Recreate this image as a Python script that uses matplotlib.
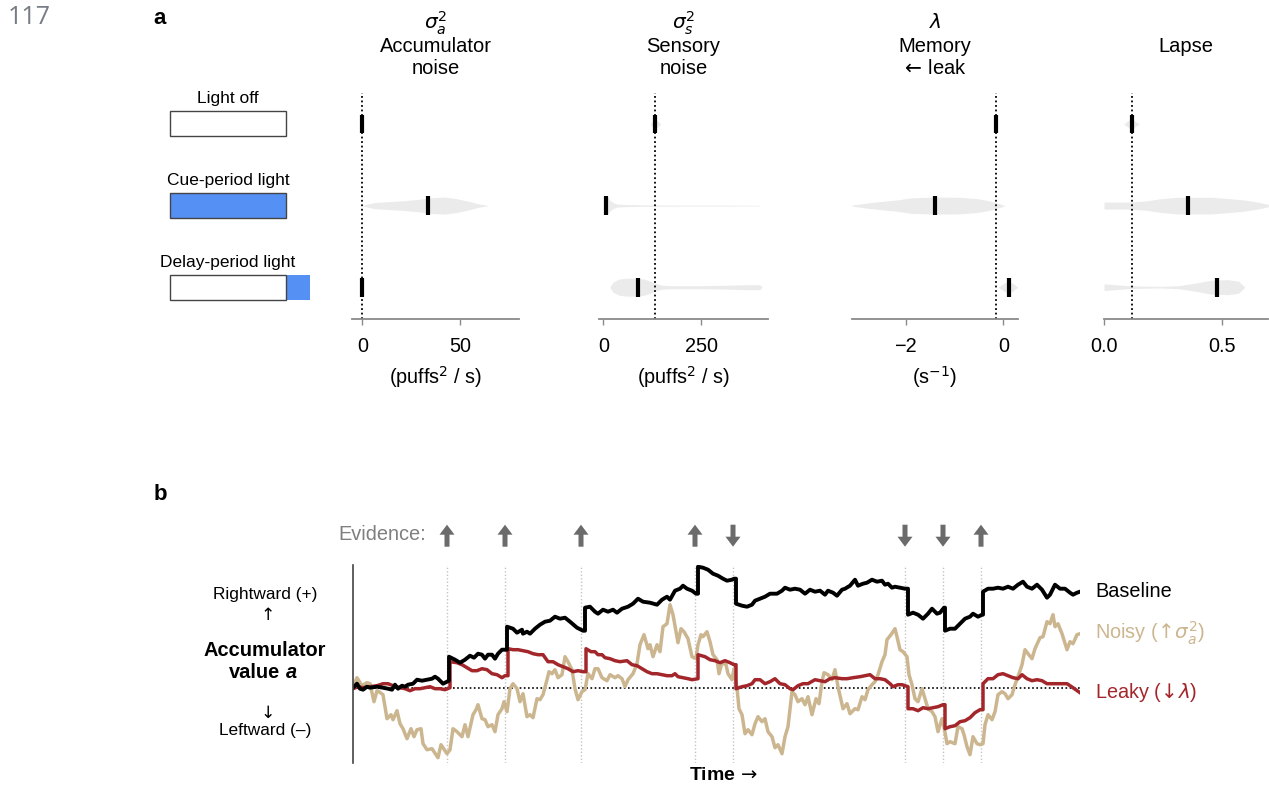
import numpy as np
import matplotlib
matplotlib.use("Agg")
import matplotlib.pyplot as plt
from matplotlib.patches import Rectangle

plt.rcParams['font.family'] = ['Liberation Sans', 'DejaVu Sans']
plt.rcParams['mathtext.fontset'] = 'dejavusans'

# ---------------- data: panel a ----------------
conditions = ["Light off", "Cue-period light", "Delay-period light"]
param_titles = [["$\\sigma_a^2$", "Accumulator", "noise"],
                ["$\\sigma_s^2$", "Sensory", "noise"],
                ["$\\lambda$", "Memory", "$\\!\\leftarrow\\!$ leak"],
                ["", "Lapse", ""]]
param_units = ["(puffs$^2$ / s)", "(puffs$^2$ / s)", "(s$^{-1}$)", ""]
param_ticks = [[0, 50], [0, 250], [-2, 0], [0.0, 0.5]]
param_ticklabels = [["0", "50"], ["0", "250"], ["\u22122", "0"], ["0.0", "0.5"]]
param_xlim = [(-5.3, 80.2), (-11, 421), (-3.10, 0.30), (0.0, 0.695)]
baseline_values = [0.0, 132.0, -0.15, 0.117]

medians_sigma_a = [0.0, 33.8, 0.0]
medians_sigma_s = [132.0, 7.0, 88.0]
medians_lambda = [-0.15, -1.40, 0.11]
medians_lapse = [0.117, 0.357, 0.48]

# violin outlines: (parameter values, relative density)
violin_sigma_a = [
    None,
    ([0.5, 6, 14, 22, 30, 36, 42, 48, 54, 60, 64],
     [0.5, 3, 4, 5, 6.5, 8, 8.5, 7, 4.5, 1.5, 0.3]),
    None]
violin_sigma_s = [
    ([120, 126, 132, 139, 146], [0.3, 3, 5, 3, 0.3]),
    ([6, 8, 12, 18, 25, 35, 60, 100, 200, 300, 400],
     [2, 7, 8, 5, 3, 1.5, 1, 0.7, 0.5, 0.5, 0.3]),
    ([17, 25, 40, 60, 85, 105, 120, 135, 150, 175, 250, 320, 370, 400, 405],
     [0.5, 5, 8, 9, 9, 8, 6, 3.5, 2, 1.5, 1.5, 2, 2.5, 2.5, 0.5])]
violin_lambda = [
    None,
    ([-3.1, -2.8, -2.56, -2.15, -1.88, -1.4, -0.9, -0.51, -0.24, -0.05, 0.02],
     [0.5, 2.5, 3.8, 5.8, 7.8, 8.5, 8.3, 6.8, 4.2, 1.5, 0.2]),
    ([-0.10, 0.0, 0.11, 0.2, 0.29], [0.3, 3.5, 6.5, 3.5, 0.3])]
violin_lapse = [
    ([0.085, 0.10, 0.117, 0.13, 0.148], [0.3, 3, 6, 3, 0.3]),
    ([0.0, 0.10, 0.174, 0.244, 0.315, 0.456, 0.53, 0.597, 0.65, 0.70],
     [3.5, 3.5, 4.5, 7, 8.3, 8.3, 7, 5.5, 3.5, 1]),
    ([0.0, 0.05, 0.103, 0.17, 0.244, 0.315, 0.386, 0.456, 0.527, 0.57, 0.595],
     [3.3, 2.5, 1.5, 1, 0.8, 1.5, 4, 7, 7.5, 6, 0.5])]

# ---------------- data: panel b ----------------
evidence_times = [94, 152, 228, 342, 380, 552, 590, 628]
evidence_dirs = [1, 1, 1, 1, -1, -1, -1, 1]

baseline_t = [0, 4, 7, 10, 14, 17, 24, 30, 35, 39, 42, 45, 49, 52, 55, 60, 64, 69, 74, 79, 82, 85, 90, 96, 96,
              102, 107, 112, 117, 121, 125, 129, 132, 135, 139, 142, 145, 149, 154, 154, 160, 164, 169, 170,
              174, 177, 182, 187, 192, 197, 202, 207, 212, 217, 224, 230, 232, 232, 237, 242, 245, 250, 255,
              260, 264, 269, 275, 280, 285, 290, 297, 304, 309, 314, 317, 322, 327, 330, 334, 339, 343, 345,
              345, 350, 355, 360, 365, 370, 374, 379, 381, 383, 383, 389, 394, 399, 402, 407, 412, 417, 424,
              429, 432, 437, 442, 447, 452, 457, 462, 467, 472, 475, 480, 484, 489, 492, 497, 502, 505, 510,
              514, 519, 524, 529, 532, 535, 539, 542, 547, 552, 555, 555, 560, 565, 570, 575, 579, 584, 587,
              591, 592, 592, 597, 602, 607, 612, 617, 620, 625, 629, 630, 630, 635, 640, 645, 650, 655, 660,
              665, 670, 674, 679, 684, 689, 694, 697, 702, 707, 712, 717, 720, 724, 727]
baseline_v = [0, 4, -1, -2, 1, 0, 1, 0, -1, -2, 3, -1, 2, 1, 3, 4, 8, 7, 8, 9, 11, 9, 4, 7, 31,
              28, 25, 28, 32, 30, 34, 33, 29, 33, 33, 29, 34, 38, 38, 61, 59, 55, 58, 54,
              56, 54, 59, 63, 66, 67, 71, 69, 70, 66, 60, 57, 57, 80, 81, 76, 74, 78, 76,
              78, 75, 79, 81, 84, 89, 86, 85, 83, 88, 91, 88, 97, 99, 102, 99, 97, 94, 94,
              121, 120, 118, 114, 112, 109, 107, 108, 109, 109, 84, 82, 81, 83, 87, 89, 91, 94, 94,
              97, 100, 98, 99, 98, 94, 98, 96, 97, 93, 97, 95, 92, 98, 99, 102, 108, 102, 104,
              105, 108, 106, 107, 103, 104, 100, 101, 100, 99, 99, 73, 75, 73, 69, 74, 79, 74, 75,
              80, 80, 57, 59, 59, 64, 69, 71, 74, 71, 73, 73, 96, 99, 99, 100, 99, 101, 99,
              103, 106, 101, 99, 103, 98, 90, 93, 103, 99, 99, 95, 93, 95, 96]

leaky_t = [0, 5, 10, 17, 24, 30, 35, 40, 47, 52, 57, 62, 67, 72, 77, 82, 87, 92, 97, 97, 104, 109, 114,
           119, 124, 129, 134, 139, 144, 149, 152, 155, 155, 160, 165, 170, 175, 180, 185, 190, 195, 200,
           205, 210, 215, 220, 225, 230, 233, 233, 238, 242, 245, 249, 252, 257, 262, 267, 274, 279, 284,
           289, 294, 299, 304, 309, 314, 319, 322, 325, 330, 335, 339, 345, 345, 352, 357, 362, 367, 372,
           377, 381, 383, 383, 389, 394, 399, 402, 407, 412, 417, 422, 427, 432, 437, 440, 445, 450, 455,
           462, 467, 472, 477, 482, 489, 494, 500, 507, 512, 517, 522, 527, 532, 537, 540, 545, 549, 555,
           555, 560, 565, 570, 575, 580, 585, 590, 592, 592, 597, 602, 607, 612, 617, 622, 627, 630, 630,
           635, 640, 645, 650, 655, 660, 665, 669, 674, 679, 684, 689, 694, 700, 707, 714, 720, 727]
leaky_v = [-1, 1, 0, 1, 2, 4, 4, 2, 0, -1, -3, -1, -1, 0, 1, -1, -1, -2, 0, 26, 25, 23, 20,
           17, 17, 19, 18, 14, 13, 10, 12, 12, 39, 38, 38, 37, 36, 34, 33, 33, 26, 26,
           23, 21, 19, 16, 17, 16, 16, 39, 36, 36, 33, 33, 30, 29, 27, 26, 27, 23, 22,
           19, 16, 14, 14, 13, 12, 12, 14, 11, 10, 9, 8, 9, 33, 31, 28, 27, 25, 27,
           25, 23, 23, -1, 1, 2, 4, 8, 8, 4, 6, 9, 4, 3, -1, -2, 2, 4, 4,
           8, 7, 6, 9, 10, 9, 9, 10, 11, 12, 13, 9, 9, 8, 4, 1, 3, 3, 1,
           -21, -21, -23, -20, -21, -20, -19, -17, -17, -41, -39, -38, -34, -33, -30, -25, -22, -22, 4,
           9, 9, 13, 14, 12, 10, 9, 13, 9, 7, 8, 7, 4, 4, 4, 4, 0, -5]

noisy_t = [0, 4, 9, 14, 17, 21, 24, 26, 30, 34, 38, 40, 44, 47, 50, 54, 58, 61, 64, 68, 70, 74, 79, 83,
           85, 88, 90, 94, 97, 100, 104, 109, 112, 115, 120, 123, 125, 129, 132, 135, 139, 142, 145, 149,
           151, 154, 157, 160, 164, 167, 170, 174, 177, 180, 184, 187, 190, 194, 196, 199, 202, 205, 209,
           212, 215, 219, 222, 225, 229, 232, 235, 239, 242, 245, 249, 254, 257, 262, 265, 269, 272, 275,
           280, 284, 287, 291, 295, 297, 300, 304, 307, 310, 314, 317, 320, 325, 328, 331, 335, 339, 343,
           345, 348, 350, 354, 357, 360, 364, 366, 369, 373, 375, 379, 381, 384, 386, 389, 392, 395, 399,
           402, 405, 409, 412, 415, 419, 422, 425, 429, 432, 435, 439, 442, 445, 449, 452, 455, 459, 463,
           466, 469, 471, 475, 479, 482, 485, 490, 494, 497, 502, 505, 509, 512, 515, 519, 522, 525, 529,
           532, 534, 538, 542, 544, 547, 550, 554, 556, 559, 562, 565, 569, 572, 575, 579, 582, 585, 589,
           591, 594, 597, 602, 605, 609, 611, 614, 617, 620, 624, 627, 630, 632, 635, 639, 642, 645, 649,
           652, 655, 659, 662, 665, 669, 672, 675, 679, 682, 687, 690, 694, 697, 700, 702, 705, 709, 714,
           717, 720, 724, 727]
noisy_v = [1, 10, 2, 5, 4, -14, -3, -4, -7, -31, -27, -32, -23, -36, -41, -51, -41, -49, -42, -41, -56, -62, -61, -67,
           -70, -57, -60, -66, -62, -41, -44, -49, -37, -49, -27, -22, -17, -31, -32, -39, -37, -44, -27, -21,
           -14, -24, -1, 4, -1, -14, -6, -29, -27, -30, -11, -12, -7, 8, 16, 14, 18, 10, 13,
           31, 26, 18, -1, -12, -4, -2, 14, 9, 19, 19, 10, 7, 13, 10, 12, 9, 1, 8,
           14, 24, 43, 53, 39, 43, 31, 43, 36, 61, 64, 83, 73, 45, 59, 56, 49, 31, 29,
           43, 53, 51, 56, 46, 33, 28, 14, 25, 23, 14, 8, 19, 0, -21, -27, -46, -42, -47,
           -36, -29, -34, -31, -44, -49, -60, -57, -66, -49, -39, -4, -7, -14, -11, -17, -9, -27, -11,
           -16, 6, 15, 13, 8, 18, 1, -21, -16, -26, -21, -22, -9, -12, -2, 3, 6, 13, 26,
           33, 48, 53, 59, 51, 38, 36, 31, 13, 3, -11, -14, -1, -11, -21, -24, -29, -44, -31,
           -39, -56, -54, -56, -39, -41, -47, -59, -67, -49, -56, -57, -56, -37, -27, -32, -24, -7, -4,
           -6, -11, -7, 3, 11, 23, 38, 34, 29, 39, 50, 51, 66, 64, 73, 61, 64, 54, 38,
           46, 44, 53, 54]

series = [("Noisy ($\\!\\uparrow\\!\\sigma_a^2$)", noisy_t, noisy_v, "#ccb690", 2.5),
          ("Leaky ($\\!\\downarrow\\!\\lambda$)", leaky_t, leaky_v, "#a3262b", 2.5),
          ("Baseline", baseline_t, baseline_v, "#000000", 2.8)]

# ---------------- figure ----------------
W, H = 1269, 786
fig = plt.figure(figsize=(W / 100, H / 100), dpi=100)

ov = fig.add_axes([0, 0, 1, 1], zorder=10)
ov.set_xlim(0, W)
ov.set_ylim(H, 0)
ov.axis('off')


def px_axes(x0, y0, x1, y1):
    return fig.add_axes([x0 / W, 1 - y1 / H, (x1 - x0) / W, (y1 - y0) / H])


ov.text(8, 18, "117", fontsize=18, color="#767c84", ha="left", va="center", family="Open Sans")
ov.text(160, 18, "a", fontsize=16, fontweight="bold", ha="center", va="center")
ov.text(160, 494, "b", fontsize=16, fontweight="bold", ha="center", va="center")

# condition legend
blue = "#5590f5"
rows_y = [98, 180, 262]
for i, (lab, ty) in enumerate(zip(conditions, rows_y)):
    ov.text(228, ty, lab, fontsize=12.5, ha="center", va="center")
    by = ty + 13
    face = blue if i == 1 else "white"
    if i == 2:
        ov.add_patch(Rectangle((286, by), 24, 25, facecolor=blue, edgecolor="none"))
    ov.add_patch(Rectangle((170, by), 116, 25, facecolor=face, edgecolor="#444444", lw=1.0))

# parameter panels
axes_px = [(352, 93, 519, 319), (599, 93, 768, 319), (852, 93, 1018, 319), (1104, 93, 1268, 319)]
all_medians = [medians_sigma_a, medians_sigma_s, medians_lambda, medians_lapse]
all_violins = [violin_sigma_a, violin_sigma_s, violin_lambda, violin_lapse]
vscale = 1 / 81.5
for k in range(4):
    ax = px_axes(*axes_px[k])
    ax.set_facecolor("none")
    ax.set_xlim(*param_xlim[k])
    ax.set_ylim(2.39, -0.38)
    for s in ["left", "top", "right"]:
        ax.spines[s].set_visible(False)
    ax.spines["bottom"].set_color("#8a8a8a")
    ax.spines["bottom"].set_linewidth(1.3)
    ax.set_yticks([])
    ax.set_xticks(param_ticks[k])
    ax.set_xticklabels(param_ticklabels[k])
    ax.tick_params(axis="x", colors="#8a8a8a", labelcolor="black", length=4, width=1, labelsize=14.3, pad=9)
    if param_units[k]:
        ax.set_xlabel(param_units[k], fontsize=14.3, labelpad=6)
    ax.axvline(baseline_values[k], color="black", ls=(0, (1, 1.5)), lw=1.3, zorder=1)
    for row in range(3):
        v = all_violins[k][row]
        if v is not None:
            xs = np.array(v[0], dtype=float)
            ds = np.array(v[1], dtype=float) * vscale
            ax.fill_between(xs, row - ds, row + ds, color="#ebebeb", lw=0, zorder=0)
        ax.plot([all_medians[k][row]] * 2, [row - 0.115, row + 0.115], color="black", lw=3,
                solid_capstyle="butt", zorder=3)
    cx = (axes_px[k][0] + axes_px[k][2]) / 2
    for line, ty in zip(param_titles[k], [23, 47, 68]):
        if line:
            ov.text(cx, ty, line, fontsize=14.5, ha="center", va="center")

# panel b
axb = px_axes(353, 565, 1080, 763)
axb.set_facecolor("none")
axb.set_xlim(0, 727)
axb.set_ylim(-75.3, 122.7)
for s in ["top", "right", "bottom"]:
    axb.spines[s].set_visible(False)
axb.spines["left"].set_color("#444444")
axb.spines["left"].set_linewidth(1.2)
axb.set_xticks([])
axb.set_yticks([])
for t in evidence_times:
    axb.axvline(t, color="#c4c4c4", ls=(0, (1, 1.5)), lw=1.0, zorder=0)
axb.axhline(0, color="black", ls=(0, (1, 1.5)), lw=1.2, zorder=1)
for name, ts, vs, col, lw in series:
    axb.plot(ts, vs, color=col, lw=lw, solid_joinstyle="round", zorder=2)
    axb.annotate(name, xy=(ts[-1], vs[-1]), xytext=(11, 0), textcoords="offset points",
                 fontsize=14.3, color=col, ha="left", va="center", annotation_clip=False)
for t, d in zip(evidence_times, evidence_dirs):
    base = 141 if d > 0 else 163
    axb.arrow(t, base, 0, 22 * d, width=5, head_width=15, head_length=10, length_includes_head=True,
              color="#6b6b6b", lw=0, clip_on=False)
ov.text(426, 535, "Evidence:", fontsize=14.4, color="#7f7f7f", ha="right", va="center")

# left side labels of panel b
ov.text(265, 594, "Rightward (+)", fontsize=12.4, ha="center", va="center")
ov.text(265, 615, "$\\uparrow$", fontsize=12.4, ha="center", va="center")
ov.text(265, 651, "Accumulator", fontsize=14.4, fontweight="bold", ha="center", va="center")
ov.text(229, 672, "value", fontsize=14.4, fontweight="bold", ha="left", va="center")
ov.text(286, 672, "a", fontsize=14.4, fontweight="bold", fontstyle="italic", ha="left", va="center")
ov.text(265, 713, "$\\downarrow$", fontsize=12.4, ha="center", va="center")
ov.text(265, 731, "Leftward (\u2013)", fontsize=12.4, ha="center", va="center")
ov.text(723, 776, "Time $\\!\\rightarrow$", fontsize=14, fontweight="bold", ha="center", va="center")

fig.savefig("out.png", dpi=100)
